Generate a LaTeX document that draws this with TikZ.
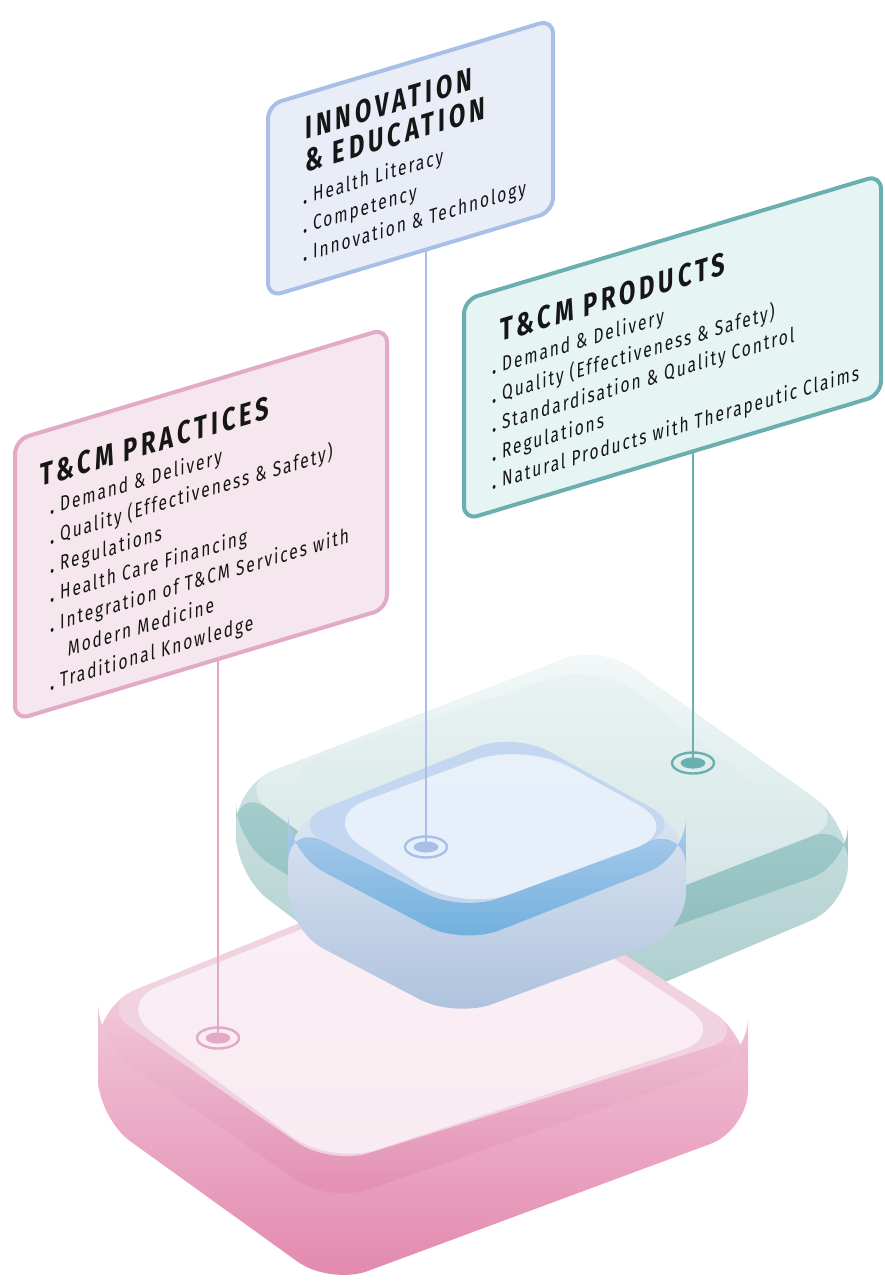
\documentclass[tikz,border=0pt]{standalone}
\usepackage{fontspec}
\setmainfont{Fira Sans}
\newfontfamily\listfont{Fira Sans}[FakeStretch=0.74,LetterSpace=9]
\newfontfamily\headfont{Fira Sans}[FakeStretch=0.74,LetterSpace=12]
\usepackage{tikz}
\usetikzlibrary{calc,shapes.geometric}

\definecolor{ink}{HTML}{161616}
\definecolor{pracline}{HTML}{E2AAC4}
\definecolor{pracfill}{HTML}{F6E7EE}
\definecolor{innoline}{HTML}{A8C0E8}
\definecolor{innofill}{HTML}{E9EDF7}
\definecolor{prodline}{HTML}{6CAFB1}
\definecolor{prodfill}{HTML}{E7F4F4}
% slab colours
\definecolor{tlsidetop}{HTML}{E3EEEE}
\definecolor{tlsidebot}{HTML}{A3C8C8}
\definecolor{tlbandtop}{HTML}{A6CECD}
\definecolor{tlbandbot}{HTML}{86B8B8}
\definecolor{tltoptop}{HTML}{F4F9F9}
\definecolor{tltopbot}{HTML}{C8DEDE}
\definecolor{tlplattop}{HTML}{E9F2F2}
\definecolor{tlplatbot}{HTML}{D1E4E4}
\definecolor{pksidetop}{HTML}{FAE8F0}
\definecolor{pksidebot}{HTML}{E287AD}
\definecolor{pkbandtop}{HTML}{F0C6D8}
\definecolor{pkbandbot}{HTML}{E28DB1}
\definecolor{pkrim}{HTML}{F1D2E0}
\definecolor{pkplattop}{HTML}{FAF0F5}
\definecolor{pkplatmid}{HTML}{F3DDE8}
\definecolor{pkplatbot}{HTML}{F8EBF1}
\definecolor{blsidetop}{HTML}{EDF3FB}
\definecolor{blsidebot}{HTML}{ADC1DC}
\definecolor{blbandtop}{HTML}{AACAEC}
\definecolor{blbandbot}{HTML}{6CAFDC}
\definecolor{blrim}{HTML}{C3D8F0}
\definecolor{blplattop}{HTML}{E8F0FA}
\definecolor{blplatmid}{HTML}{D0E1F3}
\definecolor{blplatbot}{HTML}{E6EFFA}

\tikzset{
  panel/.style={draw, line width=2pt, rounded corners=7pt, yslant=0.3,
    anchor=north west, inner sep=0pt, outer sep=0pt},
  head/.style={anchor=base west, inner sep=0pt, yslant=0.3, text=ink,
    font=\headfont\bfseries\fontsize{16}{16}\selectfont},
  item/.style={anchor=base west, inner sep=0pt, yslant=0.3, text=ink,
    font=\listfont\fontsize{10.5}{10.5}\selectfont},
  pinring/.style={ellipse, draw, line width=1.2pt, minimum width=21pt,
    minimum height=10.5pt, inner sep=0pt},
  leader/.style={line width=1pt},
  slab/.style={rounded corners=20pt},
}
\newcommand\dotmark{{\bfseries .}\ }

\begin{document}
\begin{tikzpicture}[x=0.5pt,y=-0.5pt]
\useasboundingbox (0,0) rectangle (884,1285);

% teal slab, at the back
\coordinate (tlL) at (236,785);
\coordinate (tlB) at (600,645);
\coordinate (tlR) at (848,822);
\coordinate (tlF) at (480,965);
\shade[slab, top color=tlsidetop, bottom color=tlsidebot]
  (tlL) -- (tlB) -- (tlR) -- (848,905) -- (480,1060) -- (236,875) -- cycle;
\shade[slab, top color=tlbandtop, bottom color=tlbandbot]
  (tlL) -- (tlF) -- (tlR) -- (848,865) -- (480,995) -- (236,843) -- cycle;
\shade[slab, top color=tltoptop, bottom color=tltopbot]
  (tlL) -- (tlB) -- (tlR) -- (tlF) -- cycle;
\shade[rounded corners=26pt, top color=tlplattop, bottom color=tlplatbot, opacity=.7]
  (272,772) -- (600,662) -- (812,832) -- (tlF) -- cycle;

% pink slab, in front
\coordinate (pkL) at (98,1005);
\coordinate (pkB) at (470,854);
\coordinate (pkR) at (748,1035);
\coordinate (pkF) at (330,1165);
\shade[slab, top color=pksidetop, bottom color=pksidebot]
  (pkL) -- (pkB) -- (pkR) -- (748,1130) -- (330,1285) -- (98,1118) -- cycle;
\shade[slab, top color=pkbandtop, bottom color=pkbandbot]
  (pkL) -- (pkF) -- (pkR) -- (748,1058) -- (330,1203) -- (98,1043) -- cycle;
\fill[slab, pkrim] (pkL) -- (pkB) -- (pkR) -- (pkF) -- cycle;
\shade[rounded corners=24pt, top color=pkplattop, middle color=pkplatmid, bottom color=pkplatbot]
  (114,1004) -- (470,862) -- (728,1035) -- (pkF) -- cycle;

% blue column, standing on the pink slab
\coordinate (blL) at (288,823);
\coordinate (blB) at (514,732);
\coordinate (blR) at (686,827);
\coordinate (blF) at (462,912);
\shade[slab, top color=blsidetop, bottom color=blsidebot]
  (blL) -- (blB) -- (blR) -- (686,932) -- (455,1018) -- (288,930) -- cycle;
\shade[slab, top color=blbandtop, bottom color=blbandbot]
  (blL) -- (blF) -- (blR) -- (686,857) -- (462,945) -- (288,853) -- cycle;
\fill[slab, blrim] (blL) -- (blB) -- (blR) -- (blF) -- cycle;
\shade[rounded corners=26pt, top color=blplattop, middle color=blplatmid, bottom color=blplatbot]
  (318,818) -- (524,742) -- (684,830) -- (blF) -- cycle;

% panels
\node[panel, draw=innoline, fill=innofill, minimum width=142.5pt, minimum height=96pt]
  (innobox) at (268,105) {};
\node[panel, draw=pracline, fill=pracfill, minimum width=186pt, minimum height=140pt]
  (pracbox) at (15,440) {};
\node[panel, draw=prodline, fill=prodfill, minimum width=208.5pt, minimum height=110pt]
  (prodbox) at (464,300) {};

% panel texts
\node[head] (innohead1) at (305,140) {INNOVATION};
\node[head] (innohead2) at (305,173) {\& EDUCATION};
\foreach \t [count=\i] in {Health Literacy, Competency, Innovation \& Technology}
  \node[item] (innoitem\i) at (303,{205+(\i-1)*28.5}) {\dotmark\t};

\node[head] (prachead) at (40,487) {T\&CM PRACTICES};
\foreach \t [count=\i] in {\dotmark Demand \& Delivery, \dotmark Quality (Effectiveness \& Safety),
    \dotmark Regulations, \dotmark Health Care Financing, \dotmark Integration of T\&CM Services with,
    \hspace*{8.7pt}Modern Medicine, \dotmark Traditional Knowledge}
  \node[item] (pracitem\i) at (50,{515+(\i-1)*29.3}) {\t};

\node[head] (prodhead) at (500,342) {T\&CM PRODUCTS};
\foreach \t [count=\i] in {Demand \& Delivery, Quality (Effectiveness \& Safety),
    Standardisation \& Quality Control, Regulations,
    Natural Products with Therapeutic Claims}
  \node[item] (proditem\i) at (492,{375+(\i-1)*28.75}) {\dotmark\t};

% leaders and pins
\coordinate (innofoot) at (426,250);
\coordinate (pracfoot) at (218,659);
\coordinate (prodfoot) at (693,451);
\node[pinring, draw=innoline] (innopin) at (426,847) {};
\node[pinring, draw=pracline] (pracpin) at (218,1038) {};
\node[pinring, draw=prodline] (prodpin) at (693,763) {};
\draw[leader, innoline] (innofoot) -- (innopin.center);
\draw[leader, pracline] (pracfoot) -- (pracpin.center);
\draw[leader, prodline] (prodfoot) -- (prodpin.center);
\fill[innoline] (innopin.center) ellipse [x radius=6.2pt, y radius=2.8pt];
\fill[pracline] (pracpin.center) ellipse [x radius=6.2pt, y radius=2.8pt];
\fill[prodline] (prodpin.center) ellipse [x radius=6.2pt, y radius=2.8pt];
\end{tikzpicture}
\end{document}
